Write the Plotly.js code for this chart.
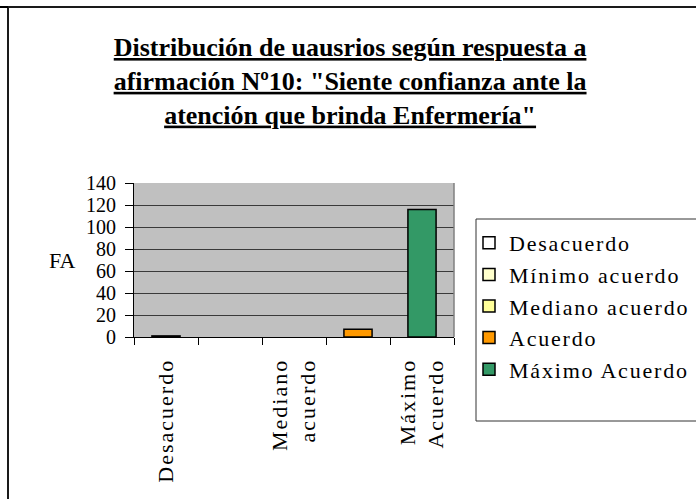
<!DOCTYPE html>
<html>
<head>
<meta charset="utf-8">
<script src="https://cdn.plot.ly/plotly-3.0.1.min.js"></script>
<style>
  html, body { margin: 0; padding: 0; background: #ffffff; }
  #wrap { position: relative; width: 696px; height: 499px; overflow: hidden; }
  #chart { position: absolute; left: 0; top: 0; width: 696px; height: 499px; }
  #frame { position: absolute; left: 7px; top: 6px; width: 700px; height: 500px;
           border-left: 2px solid #1a1a1a; border-top: 2px solid #1a1a1a; pointer-events: none; }
  #stub { position: absolute; left: 0; top: 6px; width: 8px; height: 2px; background: #000; }
  #chart .xtick text { letter-spacing: 2px; }
  .legendtext { letter-spacing: 1.8px; }
  #chart .legend .traces { opacity: 1 !important; }
</style>
</head>
<body>
<div id="wrap">
  <div id="chart"></div>
  <div id="frame"></div>
  <div id="stub"></div>
</div>
<script>
const categories = ["Desacuerdo", "Mínimo acuerdo", "Mediano acuerdo", "Acuerdo", "Máximo Acuerdo"];
const values = [1, 0, 0, 7, 116];
const seriesColors = ["#FFFFFF", "#FFFFCC", "#FFFF99", "#FF9900", "#339966"];
const tickLabels = ["Desacuerdo", "", "Mediano<br>acuerdo", "", "Máximo<br>Acuerdo"];
const yTicks = [0, 20, 40, 60, 80, 100, 120, 140];
const yAxisLabel = "FA";
const titleLines = [
  "Distribución de uausrios según respuesta a",
  "afirmación Nº10: \"Siente confianza ante la",
  "atención que brinda Enfermería\""
];

const serif = "'Liberation Serif', 'Times New Roman', serif";

// zero-valued series are listed in the legend but draw no mark, as in the reference
const traces = categories.map((c, i) => ({
  type: "bar",
  name: c,
  x: [c],
  y: [values[i]],
  visible: values[i] > 0 ? true : "legendonly",
  marker: { color: seriesColors[i], line: { color: "#000000", width: 1.5 } },
  hoverinfo: "x+y"
}));

const layout = {
  width: 696,
  height: 499,
  paper_bgcolor: "#ffffff",
  plot_bgcolor: "#C0C0C0",
  margin: { l: 134, r: 242, t: 183, b: 162, pad: 0, autoexpand: false },
  barmode: "overlay",
  bargap: 0.56,
  title: {
    text: titleLines.map(t => "<b><u>" + t + "</u></b>").join("<br>"),
    font: { family: serif, size: 26, color: "#000000" },
    xref: "container", x: 0.503, xanchor: "center",
    yref: "container", y: 1 - 56 / 499, yanchor: "top"
  },
  xaxis: {
    type: "category",
    categoryorder: "array",
    categoryarray: categories,
    range: [-0.5, 4.5],
    tickmode: "array",
    tickvals: categories,
    ticktext: tickLabels,
    tickangle: -90,
    tickson: "boundaries",
    ticks: "outside",
    ticklen: 7,
    tickcolor: "#000000",
    ticklabelstandoff: 12,
    showline: true,
    linecolor: "#000000",
    linewidth: 1,
    showgrid: false,
    zeroline: false,
    tickfont: { family: serif, size: 22, color: "#000000" },
    fixedrange: true
  },
  yaxis: {
    range: [0, 140],
    tickmode: "array",
    tickvals: yTicks,
    ticks: "outside",
    ticklen: 8,
    tickcolor: "#000000",
    ticklabelstandoff: 5,
    showline: true,
    linecolor: "#000000",
    linewidth: 1,
    showgrid: true,
    gridcolor: "#3a3a3a",
    gridwidth: 1,
    zeroline: false,
    tickfont: { family: serif, size: 20, color: "#000000" },
    fixedrange: true
  },
  annotations: [
    { text: yAxisLabel, xref: "paper", yref: "paper", x: -0.225, y: 0.5,
      xanchor: "center", yanchor: "middle", showarrow: false,
      font: { family: serif, size: 22, color: "#000000" } }
  ],
  shapes: [
    { type: "line", xref: "paper", yref: "paper", x0: 1, x1: 1, y0: 0, y1: 1,
      line: { color: "#808080", width: 1.5 } },
    { type: "rect", xref: "paper", yref: "paper",
      x0: (476 - 134) / 320, x1: (705 - 134) / 320,
      y0: (337 - 421) / 154, y1: (337 - 219) / 154,
      line: { color: "#333333", width: 1 }, fillcolor: "rgba(0,0,0,0)" }
  ],
  showlegend: true,
  legend: {
    x: (469 - 134) / 320, xanchor: "left",
    y: (337 - 222) / 154, yanchor: "top",
    bgcolor: "rgba(0,0,0,0)",
    borderwidth: 0,
    maxheight: 400,
    font: { family: serif, size: 22, color: "#000000" },
    itemwidth: 30,
    tracegroupgap: 0,
    traceorder: "normal"
  }
};

Plotly.newPlot("chart", traces, layout, { displayModeBar: false, staticPlot: true });
</script>
</body>
</html>
